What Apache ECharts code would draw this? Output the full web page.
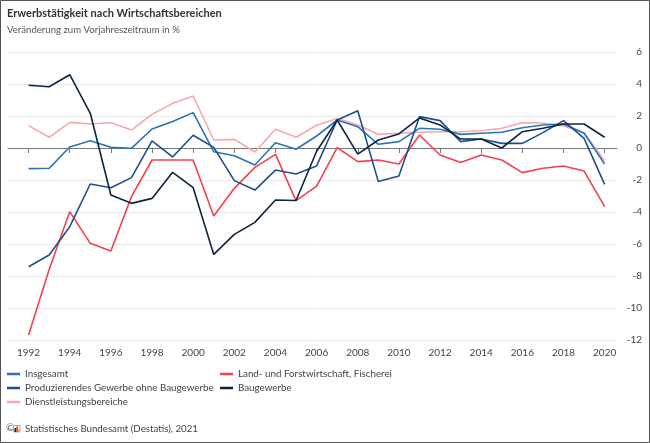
<!DOCTYPE html>
<html>
<head>
<meta charset="utf-8">
<script src="https://cdn.jsdelivr.net/npm/echarts@6/dist/echarts.min.js"></script>
<style>
  html, body { margin: 0; padding: 0; background: #fff; }
  #chart { width: 650px; height: 443px; }
</style>
</head>
<body>
<div id="chart"></div>
<script>
// Jahre und Tick-Beschriftungen
var years = [1992, 1993, 1994, 1995, 1996, 1997, 1998, 1999, 2000, 2001, 2002, 2003, 2004, 2005, 2006,
  2007, 2008, 2009, 2010, 2011, 2012, 2013, 2014, 2015, 2016, 2017, 2018, 2019, 2020];
var tickYears = [1992, 1994, 1996, 1998, 2000, 2002, 2004, 2006, 2008, 2010, 2012, 2014, 2016, 2018, 2020];

// Veränderung zum Vorjahr in %
var insgesamt = [-1.29, -1.27, 0.06, 0.46, 0.04, -0.02, 1.19, 1.65, 2.21, -0.23, -0.48, -1.06, 0.33, -0.08, 0.75,
  1.75, 1.33, 0.23, 0.4, 1.23, 1.17, 0.85, 0.92, 0.98, 1.27, 1.44, 1.5, 0.92, -1.0];
var landwirtschaft = [-11.69, -7.6, -3.98, -5.96, -6.44, -3.04, -0.75, -0.75, -0.75, -4.25, -2.52, -1.21, -0.4, -3.29, -2.38,
  0.02, -0.85, -0.75, -1.0, 0.81, -0.44, -0.9, -0.44, -0.75, -1.54, -1.27, -1.12, -1.44, -3.67];
var produzierend = [-7.42, -6.69, -4.92, -2.25, -2.48, -1.85, 0.44, -0.56, 0.8, 0.04, -2.04, -2.63, -1.38, -1.63, -1.12,
  1.75, 2.33, -2.1, -1.75, 1.96, 1.71, 0.4, 0.56, 0.29, 0.29, 0.96, 1.71, 0.6, -2.27];
var baugewerbe = [3.92, 3.83, 4.58, 2.17, -2.94, -3.46, -3.15, -1.52, -2.48, -6.65, -5.4, -4.65, -3.25, -3.28, -0.2,
  1.75, -0.38, 0.5, 0.88, 1.88, 1.44, 0.56, 0.56, 0.0, 1.02, 1.23, 1.5, 1.5, 0.67];
var dienstleistung = [1.4, 0.67, 1.6, 1.5, 1.58, 1.12, 2.1, 2.79, 3.25, 0.5, 0.54, -0.25, 1.17, 0.67, 1.42,
  1.85, 1.44, 0.85, 0.92, 0.98, 1.02, 1.02, 1.08, 1.23, 1.58, 1.56, 1.38, 0.96, -0.79];

var FONT = 'Lato, "Open Sans", sans-serif';

function pairs(values) {
  return years.map(function (y, i) { return [y, values[i]]; });
}

function lineSeries(name, values, color) {
  return {
    name: name,
    type: 'line',
    data: pairs(values),
    symbol: 'none',
    lineStyle: { width: 1.6, color: color },
    itemStyle: { color: color },
    emphasis: { disabled: true },
    animation: false
  };
}

var legendText = { color: '#444', fontSize: 9.8, fontFamily: FONT, lineHeight: 12 };

var chart = echarts.init(document.getElementById('chart'));
chart.setOption({
  backgroundColor: '#fff',
  animation: false,
  grid: { left: 8, right: 33, top: 52, bottom: 103 },
  xAxis: {
    type: 'value',
    min: 1991,
    max: 2020.6,
    axisLine: { show: true, lineStyle: { color: '#777', width: 1 } },
    axisTick: { show: true, length: 5, lineStyle: { color: '#777' }, customValues: tickYears },
    axisLabel: {
      customValues: tickYears,
      color: '#444', fontSize: 10, fontFamily: FONT, margin: 8,
      formatter: function (v) { return String(v); }
    },
    splitLine: { show: false }
  },
  yAxis: {
    type: 'value',
    position: 'right',
    min: -12,
    max: 6,
    interval: 2,
    axisLine: { show: false },
    axisTick: { show: false },
    axisLabel: { color: '#444', fontSize: 10, fontFamily: FONT, align: 'right', margin: 25 },
    splitLine: { lineStyle: { color: '#e9e9e9', width: 1 } }
  },
  legend: [
    {
      left: 7, top: 368, orient: 'vertical', itemGap: 2, padding: 0,
      icon: 'rect', itemWidth: 13, itemHeight: 2.5,
      selectedMode: false, textStyle: legendText,
      data: ['Insgesamt', 'Produzierendes Gewerbe ohne Baugewerbe', 'Dienstleistungsbereiche']
    },
    {
      left: 220, top: 368, orient: 'vertical', itemGap: 2, padding: 0,
      icon: 'rect', itemWidth: 13, itemHeight: 2.5,
      selectedMode: false, textStyle: legendText,
      data: ['Land- und Forstwirtschaft, Fischerei', 'Baugewerbe']
    }
  ],
  series: [
    lineSeries('Dienstleistungsbereiche', dienstleistung, '#f9a7ad'),
    lineSeries('Land- und Forstwirtschaft, Fischerei', landwirtschaft, '#f5404e'),
    lineSeries('Insgesamt', insgesamt, '#2b73b9'),
    lineSeries('Produzierendes Gewerbe ohne Baugewerbe', produzierend, '#1f4f8a'),
    lineSeries('Baugewerbe', baugewerbe, '#0d2440')
  ],
  graphic: [
    { type: 'rect', silent: true, shape: { x: 0.5, y: 0.5, width: 649, height: 442 },
      style: { fill: 'none', stroke: '#555', lineWidth: 1 } },
    { type: 'text', left: 7, top: 8,
      style: { text: 'Erwerbstätigkeit nach Wirtschaftsbereichen', fill: '#333',
        font: 'bold 11px ' + FONT } },
    { type: 'text', left: 7, top: 25,
      style: { text: 'Veränderung zum Vorjahreszeitraum in %', fill: '#555',
        font: '9.6px ' + FONT } },
    { type: 'text', left: 6, top: 423,
      style: { text: '©', fill: '#555', font: '10px ' + FONT } },
    { type: 'rect', silent: true, shape: { x: 13.5, y: 425.5, width: 6.5, height: 6.5 },
      style: { fill: 'none', stroke: '#aaa', lineWidth: 1 } },
    { type: 'rect', silent: true, shape: { x: 14.5, y: 428, width: 1.5, height: 4 }, style: { fill: '#222' } },
    { type: 'rect', silent: true, shape: { x: 16.3, y: 426.5, width: 1.5, height: 5.5 }, style: { fill: '#e2231a' } },
    { type: 'rect', silent: true, shape: { x: 18.1, y: 429, width: 1.5, height: 3 }, style: { fill: '#f5c000' } },
    { type: 'text', left: 25, top: 423.5,
      style: { text: 'Statistisches Bundesamt (Destatis), 2021', fill: '#444', font: '9.7px ' + FONT } }
  ]
});
</script>
</body>
</html>
